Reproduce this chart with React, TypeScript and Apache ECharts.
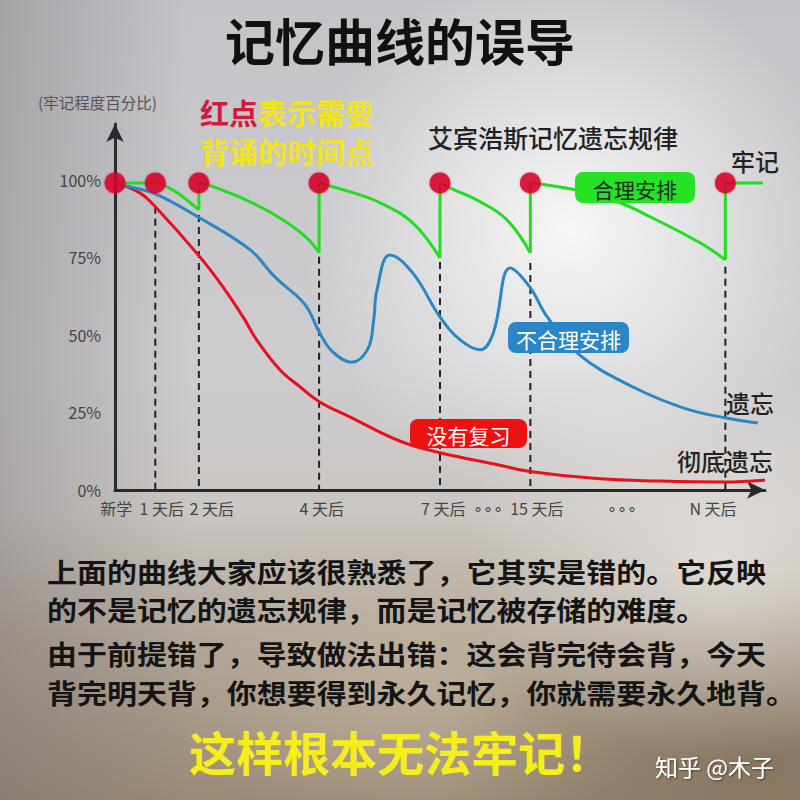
import React, { useEffect, useRef } from 'react';
import * as echarts from 'echarts';

const FONT = '"Noto Sans CJK SC", "Noto Sans", sans-serif';

// ---- axis definitions ----
const yTicks = [0, 25, 50, 75, 100];
const xLabelPos = [0.2, 7.2, 14.9, 31.8, 50.5, 57.4, 64.9, 78, 92];
const xLabels = ['新学', '1 天后', '2 天后', '4 天后', '7 天后', '∘∘∘', '15 天后', '∘∘∘', 'N 天后'];

// ---- review moments (red dots) ----
const reviewX = [0, 6.2, 12.9, 31.4, 50, 63.9, 93.9];
const reviewY = [99, 99, 99, 99, 99, 99, 99];

// dashed guides: top of each guide line
const guideX = [6.2, 12.9, 31.4, 50, 63.9, 93.9];
const guideTop = [91.3, 88.7, 75.2, 73.5, 73.2, 72];

// ---- no review (red) ----
const noReview = [
  [0, 99], [3.8, 95.8], [6.2, 91.3], [12.8, 75.8], [16.6, 65.5], [19.7, 55.8], [21.8, 48.4],
  [25.4, 38.7], [28.5, 33.2], [31.5, 28.4], [36.2, 23.5], [43.8, 15.8], [50, 12], [59.2, 8],
  [63.8, 6], [74.6, 3.6], [83.8, 2.9], [93.8, 2.6], [100, 3.2],
];

// ---- unreasonable schedule (blue) ----
const badSchedule = [
  [0, 99], [1.8, 98], [6.2, 95.5], [12.8, 88], [20.8, 77.4], [24.6, 68.7], [28.5, 61.5],
  [29.8, 58], [31.5, 50.6], [33.5, 44.5], [36.4, 41.2], [38.9, 45.5], [39.8, 54.8], [40.3, 64.5],
  [42.3, 75.8], [45.8, 70], [50, 55.8], [53.1, 48.4], [56.2, 45.2], [58.2, 50.6], [60.8, 71.6],
  [63.8, 65.5], [66.5, 55.8], [71.5, 43.5], [79.7, 33.2], [87.4, 26.5], [94, 23.2], [98.9, 21.6],
];

// ---- reasonable schedule (green): decay segments between reviews ----
const goodSeg1 = [[0, 99], [6.2, 99], [8, 97.7], [10, 95.2], [12.9, 90.3]];
const goodSeg2 = [[12.9, 99], [14.2, 98.5], [20.8, 92.9], [25.8, 87.1], [29.5, 81.3], [31.4, 76.5]];
const goodSeg3 = [[31.4, 99], [36.2, 96.1], [40.8, 92.6], [45.8, 86.1], [50, 74.8]];
const goodSeg4 = [[50, 99], [51.5, 97.4], [56.2, 92.9], [60.3, 87.1], [63.9, 76.5]];
const goodSeg5 = [[63.9, 99], [70.8, 96.8], [77.7, 92.6], [82.3, 88.1], [90, 79.7], [93.9, 74.2]];
const goodSeg6 = [[93.9, 99], [99.7, 99]];
const goodDropX = [12.9, 31.4, 50, 63.9, 93.9];
const goodDropY = [90.3, 76.5, 74.8, 76.5, 74.2];

const GREEN = '#22dd22';
const BLUE = '#2b87c4';
const RED = '#e8101a';
const DOT = '#d8082c';
const YELLOW = '#f2e51c';

function txt(text: string, x: number, y: number, size: number, fill: string, opts: any = {}) {
  return {
    type: 'text',
    z: 100,
    x,
    y,
    scaleX: opts.scaleX || 1,
    style: {
      text,
      x: 0,
      y: 0,
      fill,
      font: `${opts.weight || 'normal'} ${size}px ${FONT}`,
      textAlign: opts.align || 'left',
      textVerticalAlign: 'middle',
      align: opts.align || 'left',
      verticalAlign: 'middle',
      ...(opts.extra || {}),
    },
  };
}

function tag(text: string, x: number, y: number, w: number, h: number, bg: string, fg: string) {
  return [
    { type: 'rect', z: 99, shape: { x, y, width: w, height: h, r: 8 }, style: { fill: bg } },
    txt(text, x + w / 2, y + h / 2 + 1, 21, fg, { align: 'center' }),
  ];
}

export default function App() {
  const ref = useRef<HTMLDivElement>(null);
  useEffect(() => {
    if (!ref.current) return;
    const chart = echarts.init(ref.current, undefined, { renderer: 'svg' });

    const lineBase = { type: 'line', symbol: 'none', silent: true };
    const guides = guideX.map((x, i) => ({
      ...lineBase,
      z: 1,
      data: [[x, guideTop[i]], [x, 0]],
      lineStyle: { color: '#222', width: 2, type: [7, 5] },
    }));
    const greenSegs = [goodSeg1, goodSeg2, goodSeg3, goodSeg4, goodSeg5, goodSeg6].map((d) => ({
      ...lineBase,
      z: 4,
      smooth: 0.4,
      data: d,
      lineStyle: { color: GREEN, width: 3 },
    }));
    const greenDrops = goodDropX.map((x, i) => ({
      ...lineBase,
      z: 4,
      data: [[x, goodDropY[i]], [x, 99]],
      lineStyle: { color: GREEN, width: 3 },
    }));

    const option: any = {
      animation: false,
      backgroundColor: 'transparent',
      grid: { left: 115, right: 35, top: 124, bottom: 310 },
      xAxis: {
        type: 'value',
        min: 0,
        max: 100,
        splitLine: { show: false },
        axisTick: { show: false },
        axisLine: {
          lineStyle: { color: '#2a2a2a', width: 3 },
          symbol: ['none', 'arrow'],
          symbolSize: [13, 18],
        },
        axisLabel: {
          customValues: xLabelPos,
          margin: 10,
          color: '#444',
          fontSize: 16,
          fontFamily: FONT,
          formatter: (v: number) => {
            const i = xLabelPos.findIndex((p) => Math.abs(p - v) < 0.01);
            return i >= 0 ? xLabels[i] : '';
          },
        },
      },
      yAxis: {
        type: 'value',
        min: 0,
        max: 118,
        interval: 25,
        splitLine: { show: false },
        axisTick: { show: false },
        axisLine: {
          lineStyle: { color: '#2a2a2a', width: 3 },
          symbol: ['none', 'arrow'],
          symbolSize: [13, 18],
        },
        axisLabel: {
          margin: 14,
          color: '#444',
          fontSize: 16,
          fontFamily: FONT,
          padding: [0, 0, 8, 0],
          formatter: (v: number) => (yTicks.includes(v) ? `${v}%` : ''),
        },
      },
      series: [
        ...guides,
        {
          ...lineBase,
          name: '没有复习',
          z: 3,
          smooth: 0.4,
          data: noReview,
          lineStyle: { color: RED, width: 3 },
        },
        {
          ...lineBase,
          name: '不合理安排',
          z: 3,
          smooth: 0.4,
          data: badSchedule,
          lineStyle: { color: BLUE, width: 3 },
        },
        ...greenSegs,
        ...greenDrops,
        {
          type: 'scatter',
          z: 10,
          silent: true,
          symbolSize: 21,
          data: reviewX.map((x, i) => [x, reviewY[i]]),
          itemStyle: { color: DOT, shadowBlur: 2, shadowColor: 'rgba(220,0,40,0.6)' },
        },
      ],
      graphic: [
        txt('记忆曲线的误导', 400, 39, 50, '#111', { align: 'center', weight: 'bold' }),
        txt('(牢记程度百分比)', 38, 102, 15.5, '#555'),
        txt('红点', 200, 112, 29, '#d21a3e', { weight: 'bold' }),
        txt('表示需要', 258, 112, 29, YELLOW, { weight: 'bold' }),
        txt('背诵的时间点', 200, 151, 29, YELLOW, { weight: 'bold' }),
        txt('艾宾浩斯记忆遗忘规律', 428, 137, 25, '#222', { weight: 500 }),
        txt('牢记', 731, 160, 24, '#222', { weight: 500 }),
        txt('遗忘', 726, 402, 24, '#222', { weight: 500 }),
        txt('彻底遗忘', 677, 460, 24, '#222', { weight: 500 }),
        ...tag('合理安排', 575, 172, 120, 31, '#25e225', '#1d2b1d'),
        ...tag('不合理安排', 508, 322, 121, 31, '#2a86c6', '#ffffff'),
        ...tag('没有复习', 410, 419, 117, 29, '#ee1111', '#ffffff'),
        txt('上面的曲线大家应该很熟悉了，它其实是错的。它反映', 47, 571, 27, '#151515', { weight: 'bold', scaleX: 1.11 }),
        txt('的不是记忆的遗忘规律，而是记忆被存储的难度。', 47, 609, 27, '#151515', { weight: 'bold', scaleX: 1.11 }),
        txt('由于前提错了，导致做法出错：这会背完待会背，今天', 47, 653, 27, '#151515', { weight: 'bold', scaleX: 1.11 }),
        txt('背完明天背，你想要得到永久记忆，你就需要永久地背。', 47, 692, 27, '#151515', { weight: 'bold', scaleX: 1.11 }),
        txt('这样根本无法牢记！', 189, 750, 47, '#f5ee1a', { weight: 'bold' }),
        txt('知乎 @木子', 655, 766, 23, '#ffffff', {
          extra: { textShadowColor: 'rgba(0,0,0,0.5)', textShadowBlur: 2, textShadowOffsetX: 1, textShadowOffsetY: 1 },
        }),
      ],
    };
    chart.setOption(option);
    return () => chart.dispose();
  }, []);

  const bg = [
    'radial-gradient(circle at 570px 230px, rgba(255,255,255,0.85) 0px, rgba(255,255,255,0) 270px)',
    'radial-gradient(ellipse 260px 200px at 720px 560px, rgba(235,232,228,0.7), rgba(235,232,228,0))',
    'radial-gradient(ellipse 320px 180px at 760px 760px, rgba(120,100,75,0.6), rgba(120,100,75,0))',
    'radial-gradient(ellipse 260px 160px at 420px 680px, rgba(205,190,165,0.5), rgba(205,190,165,0))',
    'linear-gradient(to right, rgba(110,104,108,0.35) 0px, rgba(110,104,108,0) 190px)',
    'linear-gradient(to bottom, #c4c3c7 0%, #cdcccf 45%, #cac6c2 64%, #b0a597 80%, #9a8a76 100%)',
  ].join(',');

  return (
    <div
      style={{ position: 'absolute', left: 0, top: 0, width: 800, height: 800, background: bg, overflow: 'hidden' }}
    >
      <div ref={ref} style={{ width: 800, height: 800 }} />
    </div>
  );
}
